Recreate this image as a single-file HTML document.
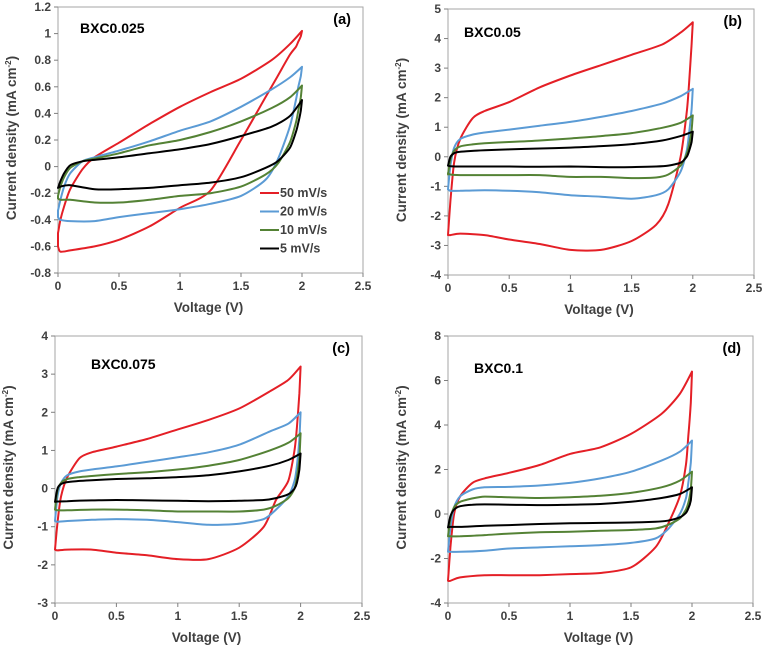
<!DOCTYPE html>
<html><head><meta charset="utf-8">
<style>
html,body{margin:0;padding:0;background:#fff;}
svg{display:block;font-family:"Liberation Sans",Arial,sans-serif;}
</style></head>
<body>
<svg id="chart" width="765" height="651" viewBox="0 0 765 651" xmlns="http://www.w3.org/2000/svg"></svg>
<script>
// Voltage grids for forward (anodic) and reverse (cathodic) sweeps
const vUp = [0,0.02,0.05,0.1,0.2,0.3,0.5,0.75,1,1.25,1.5,1.75,1.9,2];
const vDown = [2,1.99,1.97,1.95,1.9,1.8,1.7,1.5,1.25,1,0.75,0.5,0.3,0.1,0.02,0];
const xTicks = [0,0.5,1,1.5,2,2.5];
const seriesNames = ["50 mV/s","20 mV/s","10 mV/s","5 mV/s"];

// Panel (a) BXC0.025
const aYTicks = [-0.8,-0.6,-0.4,-0.2,0,0.2,0.4,0.6,0.8,1,1.2];
const aRedUp = [-0.5,-0.4,-0.3,-0.17,-0.02,0.07,0.18,0.32,0.45,0.56,0.66,0.8,0.92,1.02];
const aRedDown = [1.02,0.98,0.94,0.9,0.84,0.68,0.52,0.2,-0.18,-0.31,-0.45,-0.55,-0.6,-0.63,-0.64,-0.6];
const aBlueUp = [-0.33,-0.25,-0.15,-0.05,0.04,0.07,0.12,0.19,0.27,0.34,0.45,0.58,0.67,0.75];
const aBlueDown = [0.75,0.68,0.6,0.5,0.3,0.05,-0.1,-0.22,-0.28,-0.32,-0.35,-0.38,-0.41,-0.41,-0.4,-0.38];
const aGreenUp = [-0.22,-0.15,-0.08,-0.01,0.04,0.06,0.1,0.16,0.2,0.26,0.34,0.44,0.52,0.61];
const aGreenDown = [0.61,0.52,0.42,0.33,0.18,0.02,-0.06,-0.15,-0.2,-0.22,-0.25,-0.27,-0.27,-0.25,-0.25,-0.24];
const aBlackUp = [-0.16,-0.11,-0.05,0.01,0.04,0.05,0.07,0.1,0.13,0.17,0.23,0.3,0.38,0.5];
const aBlackDown = [0.5,0.42,0.33,0.26,0.14,0.04,-0.01,-0.08,-0.12,-0.14,-0.16,-0.17,-0.17,-0.14,-0.15,-0.16];

// Panel (b) BXC0.05
const bYTicks = [-4,-3,-2,-1,0,1,2,3,4,5];
const bRedUp = [-2.65,-1.5,-0.2,0.6,1.3,1.55,1.85,2.35,2.75,3.1,3.45,3.8,4.2,4.55];
const bRedDown = [4.55,3.8,2.5,1.5,0.0,-1.6,-2.3,-2.85,-3.15,-3.15,-2.95,-2.8,-2.65,-2.6,-2.65,-2.65];
const bBlueUp = [-1.1,-0.3,0.3,0.6,0.75,0.82,0.92,1.05,1.18,1.35,1.55,1.8,2.05,2.3];
const bBlueDown = [2.3,1.6,0.8,0.2,-0.5,-1.1,-1.3,-1.42,-1.35,-1.3,-1.2,-1.15,-1.13,-1.15,-1.15,-1.1];
const bGreenUp = [-0.6,-0.1,0.2,0.35,0.42,0.46,0.5,0.55,0.62,0.7,0.8,0.98,1.15,1.4];
const bGreenDown = [1.4,0.9,0.4,0.1,-0.3,-0.6,-0.7,-0.72,-0.68,-0.68,-0.62,-0.62,-0.62,-0.62,-0.6,-0.55];
const bBlackUp = [-0.3,0.0,0.12,0.17,0.2,0.22,0.25,0.28,0.31,0.36,0.43,0.55,0.7,0.85];
const bBlackDown = [0.85,0.5,0.2,0.0,-0.2,-0.3,-0.33,-0.35,-0.35,-0.33,-0.34,-0.33,-0.33,-0.33,-0.32,-0.3];

// Panel (c) BXC0.075
const cYTicks = [-3,-2,-1,0,1,2,3,4];
const cRedUp = [-1.6,-0.9,-0.2,0.3,0.8,0.95,1.1,1.3,1.55,1.8,2.1,2.55,2.85,3.2];
const cRedDown = [3.2,2.5,1.6,1.0,0.2,-0.3,-1.0,-1.55,-1.85,-1.85,-1.75,-1.68,-1.6,-1.6,-1.62,-1.6];
const cBlueUp = [-0.85,-0.2,0.15,0.35,0.45,0.5,0.58,0.7,0.82,0.95,1.15,1.5,1.7,2.0];
const cBlueDown = [2.0,1.3,0.6,0.2,-0.2,-0.55,-0.8,-0.92,-0.95,-0.88,-0.82,-0.8,-0.82,-0.85,-0.87,-0.85];
const cGreenUp = [-0.55,-0.05,0.15,0.25,0.3,0.33,0.38,0.43,0.5,0.6,0.75,1.0,1.2,1.45];
const cGreenDown = [1.45,0.8,0.3,0.0,-0.25,-0.45,-0.55,-0.6,-0.6,-0.6,-0.57,-0.55,-0.55,-0.57,-0.57,-0.55];
const cBlackUp = [-0.35,0.0,0.12,0.17,0.2,0.22,0.25,0.27,0.3,0.35,0.45,0.6,0.75,0.92];
const cBlackDown = [0.92,0.5,0.15,0.0,-0.15,-0.25,-0.3,-0.32,-0.33,-0.32,-0.31,-0.3,-0.31,-0.33,-0.34,-0.35];

// Panel (d) BXC0.1
const dYTicks = [-4,-2,0,2,4,6,8];
const dRedUp = [-3.0,-1.5,0.0,0.8,1.4,1.6,1.85,2.2,2.7,3.0,3.6,4.5,5.4,6.4];
const dRedDown = [6.4,5.0,3.5,2.2,0.8,-0.5,-1.5,-2.4,-2.65,-2.7,-2.75,-2.75,-2.75,-2.85,-3.0,-3.0];
const dBlueUp = [-1.7,-0.6,0.3,0.8,1.1,1.2,1.22,1.28,1.4,1.6,1.9,2.4,2.8,3.3];
const dBlueDown = [3.3,2.3,1.4,0.7,0.0,-0.7,-1.1,-1.3,-1.4,-1.45,-1.5,-1.55,-1.65,-1.7,-1.7,-1.7];
const dGreenUp = [-1.0,-0.2,0.3,0.55,0.7,0.78,0.75,0.72,0.75,0.82,0.95,1.2,1.5,1.9];
const dGreenDown = [1.9,1.1,0.5,0.2,-0.2,-0.5,-0.65,-0.72,-0.75,-0.8,-0.82,-0.88,-0.95,-1.0,-1.0,-1.0];
const dBlackUp = [-0.6,-0.1,0.2,0.35,0.42,0.43,0.42,0.4,0.42,0.45,0.55,0.72,0.9,1.2];
const dBlackDown = [1.2,0.6,0.25,0.05,-0.15,-0.3,-0.35,-0.38,-0.4,-0.42,-0.45,-0.5,-0.53,-0.58,-0.58,-0.6];

const NS = "http://www.w3.org/2000/svg";
const svg = document.getElementById("chart");
const colors = ["#e41f26","#5b9bd5","#548235","#000000"];
const seriesKeys = ["rate-50","rate-20","rate-10","rate-5"];

function mk(tag, attrs, parent){
  const e = document.createElementNS(NS, tag);
  for (const k in attrs) e.setAttribute(k, attrs[k]);
  (parent||svg).appendChild(e);
  return e;
}
function fmt(v){ return String(+v.toFixed(2)); }

// smooth path through points (Catmull-Rom, mild tension)
function smooth(pts, first){
  let d = first ? "M" + pts[0][0].toFixed(1) + "," + pts[0][1].toFixed(1) : "L" + pts[0][0].toFixed(1) + "," + pts[0][1].toFixed(1);
  const k = 8;
  for (let i = 0; i < pts.length - 1; i++){
    const p0 = pts[i-1] || pts[i], p1 = pts[i], p2 = pts[i+1], p3 = pts[i+2] || p2;
    const c1x = p1[0] + (p2[0]-p0[0])/k, c1y = p1[1] + (p2[1]-p0[1])/k;
    const c2x = p2[0] - (p3[0]-p1[0])/k, c2y = p2[1] - (p3[1]-p1[1])/k;
    d += "C" + c1x.toFixed(1)+","+c1y.toFixed(1)+" "+c2x.toFixed(1)+","+c2y.toFixed(1)+" "+p2[0].toFixed(1)+","+p2[1].toFixed(1);
  }
  return d;
}

function panel(cfg){
  const g = mk("g", {});
  
  
  const yMin = cfg.yTicks[0], yMax = cfg.yTicks[cfg.yTicks.length-1];
  const X = v => cfg.l + (v - 0) / 2.5 * (cfg.r - cfg.l);
  const Y = v => cfg.b - (v - yMin) / (yMax - yMin) * (cfg.b - cfg.t);
  const box = mk("rect", {x:cfg.l, y:cfg.t, width:cfg.r-cfg.l, height:cfg.b-cfg.t, fill:"none", stroke:"#a6a6a6", "stroke-width":1}, g);
  
  
  const ax = mk("g", {}, g);
  
  
  cfg.yTicks.forEach(v => {
    mk("line", {x1:cfg.l-4, x2:cfg.l, y1:Y(v), y2:Y(v), stroke:"#7f7f7f"}, ax);
    const t = mk("text", {x:cfg.l-7, y:Y(v)+4, "text-anchor":"end", "font-size":"12", "font-weight":"bold", fill:"#404040"}, ax);
    t.textContent = fmt(v);
    
    
  });
  const xa = mk("g", {}, g);
  
  
  xTicks.forEach(v => {
    mk("line", {x1:X(v), x2:X(v), y1:cfg.b, y2:cfg.b+4, stroke:"#7f7f7f"}, xa);
    const t = mk("text", {x:X(v), y:cfg.b+17, "text-anchor":"middle", "font-size":"12", "font-weight":"bold", fill:"#404040"}, xa);
    t.textContent = fmt(v);
    
    
  });
  const xt = mk("text", {x:(cfg.l+cfg.r)/2 - 2, y:cfg.b+39, "text-anchor":"middle", "font-size":"13.5", "font-weight":"bold", fill:"#404040"}, g);
  xt.textContent = "Voltage (V)";
  
  
  const cy = (cfg.t+cfg.b)/2 - 2, cx = cfg.l - 42;
  const yt = mk("text", {x:cx, y:cy, "text-anchor":"middle", "font-size":"13.5", "font-weight":"bold", fill:"#404040", transform:`rotate(-90 ${cx} ${cy})`}, g);
  yt.innerHTML = 'Current density (mA cm<tspan dy="-5" font-size="8">-2</tspan><tspan dy="5">)</tspan>';
  
  
  const sl = mk("text", {x:cfg.l+cfg.sx, y:cfg.t+cfg.sy, "font-size":"14", "font-weight":"bold", fill:"#000"}, g);
  sl.textContent = cfg.sample;
  
  
  const pl = mk("text", {x:cfg.r-12, y:cfg.t+17, "text-anchor":"end", "font-size":"14.5", "font-weight":"bold", fill:"#000"}, g);
  pl.textContent = "(" + cfg.id + ")";
  
  
  cfg.series.forEach((s, i) => {
    const up = vUp.map((v, k) => [X(v), Y(s[0][k])]);
    const dn = vDown.map((v, k) => [X(v), Y(s[1][k])]);
    const d = smooth(up, true) + smooth(dn, false) + "Z";
    const p = mk("path", {d:d, fill:"none", stroke:colors[i], "stroke-width":2, "stroke-linejoin":"round"}, g);
    
    
  });
  return {g, X, Y};
}

panel({id:"a", sample:"BXC0.025", l:58, r:363, t:7, b:273, sx:22, sy:26, yTicks:aYTicks,
  series:[[aRedUp,aRedDown],[aBlueUp,aBlueDown],[aGreenUp,aGreenDown],[aBlackUp,aBlackDown]]});
panel({id:"b", sample:"BXC0.05", l:448, r:754, t:9, b:275, sx:16, sy:28, yTicks:bYTicks,
  series:[[bRedUp,bRedDown],[bBlueUp,bBlueDown],[bGreenUp,bGreenDown],[bBlackUp,bBlackDown]]});
panel({id:"c", sample:"BXC0.075", l:55, r:362, t:336, b:603, sx:36, sy:33, yTicks:cYTicks,
  series:[[cRedUp,cRedDown],[cBlueUp,cBlueDown],[cGreenUp,cGreenDown],[cBlackUp,cBlackDown]]});
panel({id:"d", sample:"BXC0.1", l:448, r:753, t:336, b:603, sx:26, sy:37, yTicks:dYTicks,
  series:[[dRedUp,dRedDown],[dBlueUp,dBlueDown],[dGreenUp,dGreenDown],[dBlackUp,dBlackDown]]});

// Legend in panel (a)
const lg = mk("g", {});


seriesNames.forEach((n, i) => {
  const y = 193 + i * 18.5;
  const e = mk("g", {}, lg);
  
  
  mk("line", {x1:260, x2:279, y1:y, y2:y, stroke:colors[i], "stroke-width":2}, e);
  const t = mk("text", {x:280, y:y+4, "font-size":"12.5", "font-weight":"bold", fill:"#404040"}, e);
  t.textContent = n;
});
</script>
</body></html>
